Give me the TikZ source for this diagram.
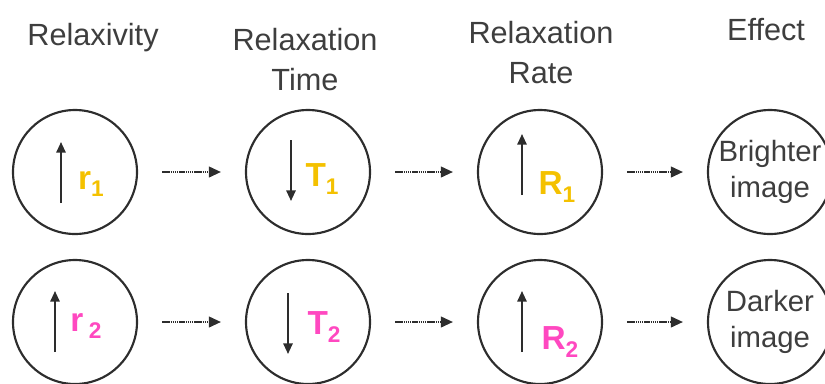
\documentclass[tikz,border=0pt]{standalone}
\usepackage{fontspec}
\setmainfont{Liberation Sans}
\usepackage{xcolor}
\usetikzlibrary{positioning, arrows.meta, calc}

\definecolor{headgray}{RGB}{62,62,62}
\definecolor{linegray}{RGB}{45,45,45}
\definecolor{relyellow}{RGB}{244,193,0}
\definecolor{relpink}{RGB}{255,72,192}

\newcommand{\lowidx}[1]{\raisebox{-0.22em}{\fontsize{17}{17}\selectfont #1}}

\tikzset{
  stage/.style={circle, draw=linegray, line width=1.6pt, minimum size=93pt, inner sep=0pt,
    text=headgray, align=center, font=\fontsize{22}{27}\selectfont},
  flow/.style={-{Triangle[length=9pt,width=8pt]}, line width=1.4pt, linegray,
    dash pattern=on 1.1pt off 0.5pt, shorten <=18pt, shorten >=18pt},
  spin/.style={-{Triangle[length=8pt,width=7pt]}, line width=1.4pt, linegray},
  header/.style={text=headgray, align=center, font=\fontsize{23}{30}\selectfont},
  qty/.style={font=\fontsize{25}{25}\selectfont\bfseries, inner sep=0pt}
}

\begin{document}
\begin{tikzpicture}[x=0.75pt, y=-0.75pt]
  \useasboundingbox (0,0) rectangle (825,383);

  % column headers
  \node[header, anchor=base] (hrel) at (93,45) {Relaxivity};
  \node[header, anchor=base] (htime) at (305,90) {Relaxation\\Time};
  \node[header, anchor=base] (hrate) at (541,83) {Relaxation\\Rate};
  \node[header, anchor=base] (heff) at (766,40) {Effect};

  % row 1 (longitudinal)
  \node[stage] (r1) at (75,172) {};
  \node[stage] (t1) at (308,172) {};
  \node[stage] (rr1) at (540,172) {};
  \node[stage] (e1) at (770,172) {Brighter\\image};

  \draw[spin] ($(r1)+(-14,31)$) -- ++(0,-61);
  \node[qty, text=relyellow] (lr1) at ($(r1)+(16,12)$) {r\lowidx{1}};
  \draw[spin] ($(t1)+(-17,-32)$) -- ++(0,61);
  \node[qty, text=relyellow] (lt1) at ($(t1)+(14,7)$) {T\lowidx{1}};
  \draw[spin] ($(rr1)+(-18,23)$) -- ++(0,-61);
  \node[qty, text=relyellow] (lrr1) at ($(rr1)+(17,15)$) {R\lowidx{1}};

  \draw[flow] (r1) -- (t1);
  \draw[flow] (t1) -- (rr1);
  \draw[flow] (rr1) -- (e1);

  % row 2 (transverse)
  \node[stage] (r2) at (75,322) {};
  \node[stage] (t2) at (308,322) {};
  \node[stage] (rr2) at (540,322) {};
  \node[stage] (e2) at (770,322) {Darker\\image};

  \draw[spin] ($(r2)+(-20,30)$) -- ++(0,-61);
  \node[qty, text=relpink] (lr2) at ($(r2)+(11,4)$) {r\,\lowidx{2}};
  \draw[spin] ($(t2)+(-20,-29)$) -- ++(0,61);
  \node[qty, text=relpink] (lt2) at ($(t2)+(16,5)$) {T\lowidx{2}};
  \draw[spin] ($(rr2)+(-18,30)$) -- ++(0,-61);
  \node[qty, text=relpink] (lrr2) at ($(rr2)+(20,20)$) {R\lowidx{2}};

  \draw[flow] (r2) -- (t2);
  \draw[flow] (t2) -- (rr2);
  \draw[flow] (rr2) -- (e2);
\end{tikzpicture}
\end{document}
